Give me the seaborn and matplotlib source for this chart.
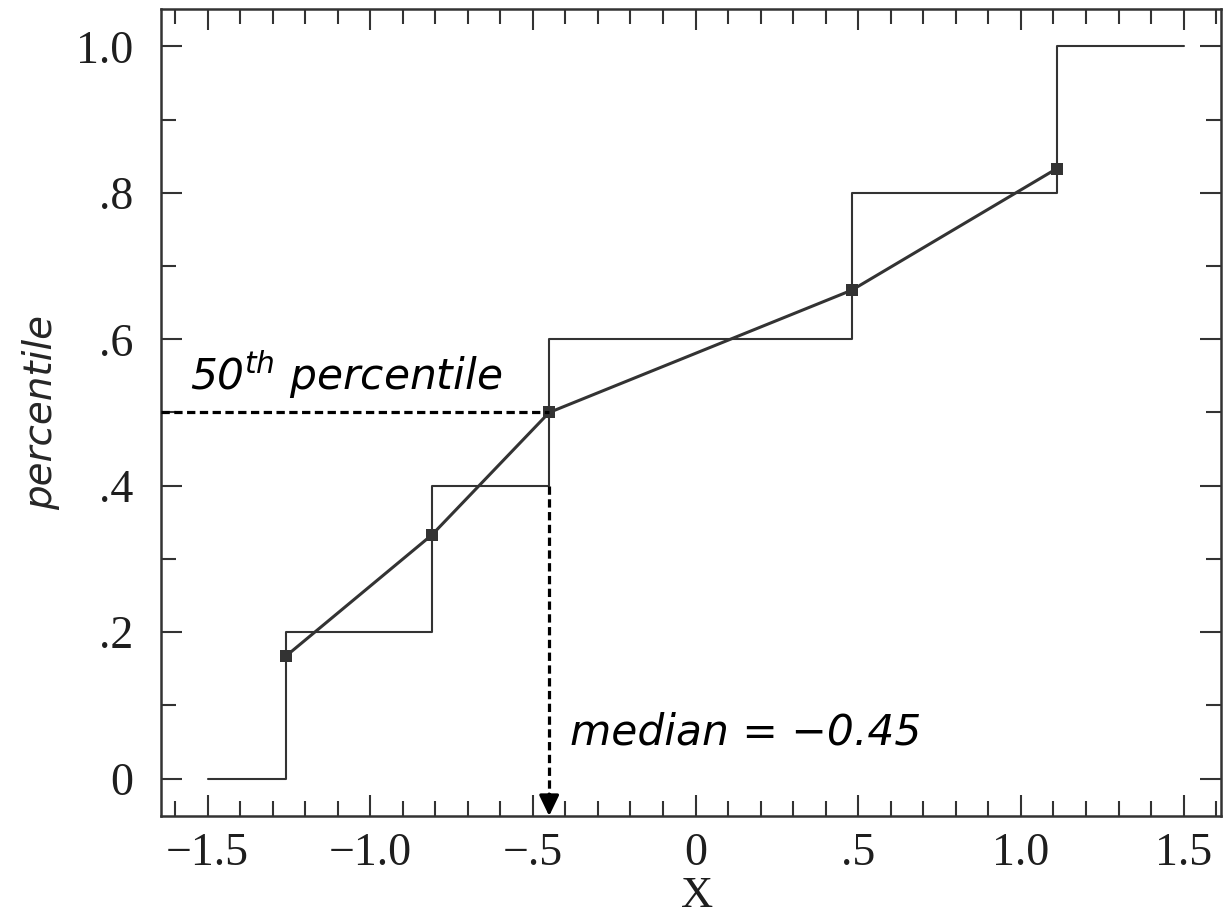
import matplotlib
matplotlib.use("Agg")
import matplotlib.pyplot as plt
from matplotlib.ticker import MultipleLocator, FixedLocator
import seaborn as sns

# ---- data ----
sample_x = [-1.26, -0.81, -0.45, 0.48, 1.11]          # sorted sample values
point_y = [0.167, 0.333, 0.500, 0.667, 0.833]          # interpolated percentiles
step_x = [-1.5, -1.26, -0.81, -0.45, 0.48, 1.11, 1.5]  # empirical CDF steps
step_y = [0.0, 0.2, 0.4, 0.6, 0.8, 1.0, 1.0]
median_x = -0.45
median_p = 0.5
step_below_median = 0.4
x_ticks = [-1.5, -1.0, -0.5, 0.0, 0.5, 1.0, 1.5]
x_ticklabels = ["\u22121.5", "\u22121.0", "\u2212.5", "0", ".5", "1.0", "1.5"]
y_ticks = [0.0, 0.2, 0.4, 0.6, 0.8, 1.0]
y_ticklabels = ["0", ".2", ".4", ".6", ".8", "1.0"]

sns.set_style("ticks")
plt.rcParams["font.family"] = ["Liberation Serif", "DejaVu Serif"]
plt.rcParams["mathtext.fontset"] = "dejavusans"

W, H = 1223, 916
fig = plt.figure(figsize=(W / 100, H / 100), dpi=100)
ax = fig.add_axes([161 / W, 1 - 816 / H, (1221 - 161) / W, (816 - 9) / H])

dark = "#333333"

# empirical CDF as steps
sns.lineplot(x=step_x, y=step_y, drawstyle="steps-post", color=dark,
             linewidth=1.5, ax=ax, sort=False, estimator=None)
# linear interpolation through points
sns.lineplot(x=sample_x, y=point_y, color=dark, linewidth=2.2, marker="s",
             markersize=9, markeredgewidth=0, ax=ax, sort=False, estimator=None)

ax.set_xlim(-1.643, 1.615)
ax.set_ylim(-0.051, 1.051)
y0 = ax.get_ylim()[0]

# dashed guide lines
dash = (2.6, 1.4)
ax.plot([ax.get_xlim()[0], median_x], [median_p, median_p], color="black",
        linewidth=2.3, dashes=dash, zorder=3)
ax.plot([median_x, median_x], [step_below_median, y0 + 0.02], color="black",
        linewidth=2.3, dashes=dash, zorder=3)
ax.annotate("", xy=(median_x, y0), xytext=(median_x, y0 + 0.03),
            arrowprops=dict(arrowstyle="-|>,head_length=1.25,head_width=0.6",
                            color="black", linewidth=2.3,
                            shrinkA=0, shrinkB=0), zorder=3)

# ticks
ax.xaxis.set_major_locator(FixedLocator(x_ticks))
ax.set_xticklabels(x_ticklabels)
ax.xaxis.set_minor_locator(MultipleLocator(0.1))
ax.yaxis.set_major_locator(FixedLocator(y_ticks))
ax.set_yticklabels(y_ticklabels)
ax.yaxis.set_minor_locator(MultipleLocator(0.1))
ax.tick_params(which="both", direction="in", top=True, right=True,
               width=1.5, color=dark, labelsize=33, labelcolor="#1e1e1e")
ax.tick_params(which="major", length=15)
ax.tick_params(which="minor", length=11)
ax.tick_params(axis="x", pad=12)
ax.tick_params(axis="y", pad=20)

for s in ax.spines.values():
    s.set_linewidth(1.8)
    s.set_color(dark)

# labels
ax.set_xlabel("X", fontsize=32, color="#1e1e1e")
ax.xaxis.set_label_coords(0.506, -0.074)
ax.xaxis.label.set_va("top")
ax.set_ylabel("percentile", fontsize=28, family="DejaVu Sans", style="italic")
ax.yaxis.set_label_coords(-0.095, 0.5)

# annotations
hand = dict(family="DejaVu Sans", style="italic", fontsize=30.5, color="black")
ax.text(-1.553, 0.531, r"50$^{\mathit{th}}$ percentile", va="baseline", ha="left", **hand)
ax.text(-0.387, 0.046, "median = \u22120.45", va="baseline", ha="left", **hand)

fig.savefig("out.png", dpi=100)
